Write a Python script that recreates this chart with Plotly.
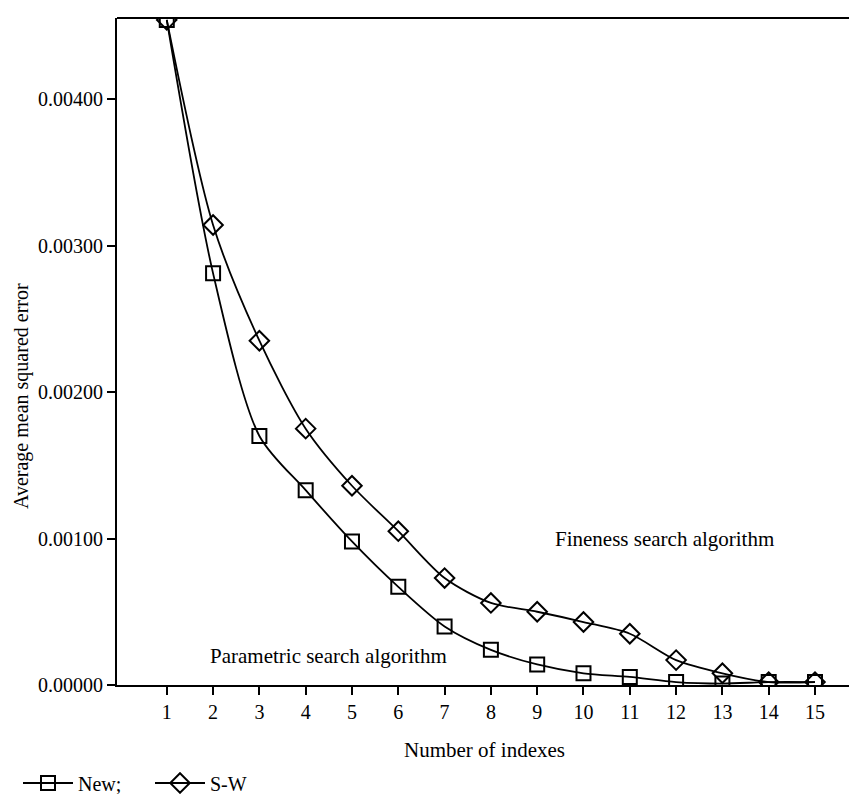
import plotly.graph_objects as go

indexes = list(range(1, 16))
new_vals = [0.00454, 0.00281, 0.00170, 0.00133, 0.00098, 0.00067, 0.00040, 0.00024,
            0.00014, 0.00008, 0.000055, 0.00002, 0.00001, 0.00002, 0.00002]
sw_vals = [0.00454, 0.00314, 0.00235, 0.00175, 0.00136, 0.00105, 0.00073, 0.00056,
           0.00050, 0.00043, 0.00035, 0.00017, 0.00008, 0.00002, 0.00002]
y_ticks = [0.0, 0.001, 0.002, 0.003, 0.004]
y_tick_labels = ["0.00000", "0.00100", "0.00200", "0.00300", "0.00400"]

FONT = "Liberation Serif"
XR = [-0.075, 15.907]
YR = [0, 0.004553]

# page body has an 8px margin, so the figure is 8px smaller than the window
W, H = 849, 786
ML, MT, MB, MR = 109, 10, 109, 0
PW, PH = W - ML - MR, H - MT - MB

fig = go.Figure()
fig.add_trace(go.Scatter(
    x=indexes, y=new_vals, name="New;", mode="lines+markers",
    line=dict(color="black", width=1.8, shape="spline", smoothing=0.8),
    marker=dict(symbol="square-open", size=14, color="black", line=dict(width=2, color="black")),
))
fig.add_trace(go.Scatter(
    x=indexes, y=sw_vals, name="S-W", mode="lines+markers",
    line=dict(color="black", width=1.8, shape="spline", smoothing=0.8),
    marker=dict(symbol="diamond-open", size=15, color="black", line=dict(width=2, color="black")),
))

fig.add_annotation(x=11.75, y=0.00100, text="Fineness search algorithm", showarrow=False,
                   font=dict(family=FONT, size=21, color="black"))
fig.add_annotation(x=4.49, y=0.000198, text="Parametric search algorithm", showarrow=False,
                   font=dict(family=FONT, size=21, color="black"))

# axis titles
fig.add_annotation(xref="paper", yref="paper", x=(13 - ML) / PW, y=(H - MB - 388) / PH,
                   text="Average mean squared error", textangle=-90, showarrow=False,
                   xanchor="center", yanchor="middle", borderpad=0,
                   font=dict(family=FONT, size=20, color="black"))
fig.add_annotation(xref="paper", yref="paper", x=(476 - ML) / PW, y=(H - MB - 742) / PH,
                   text="Number of indexes", showarrow=False,
                   xanchor="center", yanchor="middle", font=dict(family=FONT, size=21, color="black"))

# top border line
fig.add_shape(type="line", xref="paper", yref="paper", x0=0, x1=1, y0=1, y1=1,
              line=dict(color="black", width=2))

fig.update_layout(
    width=W, height=H,
    margin=dict(l=ML, r=MR, t=MT, b=MB),
    paper_bgcolor="white", plot_bgcolor="white",
    font=dict(family=FONT, size=20, color="black"),
    showlegend=True,
    legend=dict(orientation="h", xref="container", yref="container",
                x=10 / W, xanchor="left", y=(H - 775) / H, yanchor="middle",
                itemwidth=50, entrywidth=67, entrywidthmode="pixels",
                font=dict(family=FONT, size=20, color="black"), bgcolor="rgba(0,0,0,0)"),
    xaxis=dict(range=XR, tickmode="array", tickvals=indexes, ticktext=[str(i) for i in indexes],
               showgrid=False, zeroline=False, showline=True, linecolor="black", linewidth=2,
               ticks="outside", ticklen=8, tickwidth=2, tickcolor="black", automargin=False,
               tickfont=dict(family=FONT, size=20)),
    yaxis=dict(range=YR, tickmode="array", tickvals=y_ticks, ticktext=y_tick_labels,
               showgrid=False, zeroline=False, showline=True, linecolor="black", linewidth=2,
               ticks="outside", ticklen=8, tickwidth=2, tickcolor="black", automargin=False,
               tickfont=dict(family=FONT, size=20)),
    xaxis2=dict(range=XR, overlaying="x", tickmode="array", tickvals=indexes, showticklabels=False,
                showgrid=False, zeroline=False, showline=False, ticks="inside", ticklen=4,
                tickwidth=2, tickcolor="black", side="bottom", anchor="y", automargin=False),
    yaxis2=dict(range=YR, overlaying="y", tickmode="array", tickvals=y_ticks, showticklabels=False,
                showgrid=False, zeroline=False, showline=False, ticks="inside", ticklen=5,
                tickwidth=2, tickcolor="black", side="left", anchor="x", automargin=False),
)

fig.write_html("out.html")
